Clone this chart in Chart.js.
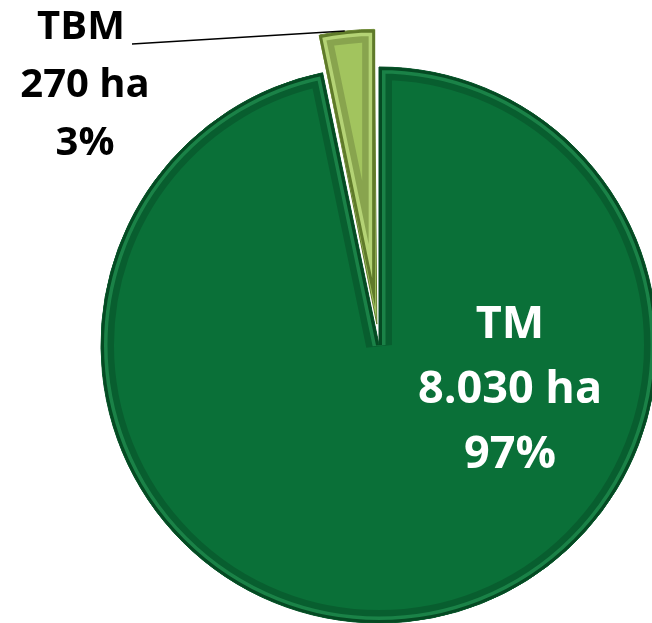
<!DOCTYPE html>
<html>
<head>
<meta charset="utf-8">
<script src="https://cdn.jsdelivr.net/npm/chart.js@4/dist/chart.umd.min.js"></script>
<style>
  html, body { margin: 0; padding: 0; background: #fff; }
  #grafico { display: block; }
</style>
</head>
<body>
<canvas id="grafico" width="652" height="623"></canvas>
<script>
// ================= DADOS =================
const categorias = ["TM", "TBM"];
const areaHa = [8030, 270];
const rotulosArea = ["8.030 ha", "270 ha"];
const percentuais = ["97%", "3%"];

// cores das fatias
const cores = ["#0a7038", "#a2c45e"];
const coresBorda = ["#054a23", "#5f7a2a"];
const coresBrilho = ["#1a8247", "#b4d375"];
const destaque = [0, 84];

// ================= FATIAS =================
function caminhoFatia(ctx, arco) {
  const p = arco.getProps(["x", "y", "startAngle", "endAngle", "outerRadius", "circumference"], true);
  const off = (arco.options.offset || 0) / 4;
  const fix = 1 - Math.sin(Math.min(Math.PI, p.circumference || 0));
  const meio = (p.startAngle + p.endAngle) / 2;
  const d = off * (1 + fix);
  const cx = p.x + Math.cos(meio) * d;
  const cy = p.y + Math.sin(meio) * d;
  ctx.beginPath();
  ctx.moveTo(cx, cy);
  ctx.arc(cx, cy, p.outerRadius, p.startAngle, p.endAngle);
  ctx.closePath();
  return { cx, cy, r: p.outerRadius, meio };
}

// efeito de chanfro nas bordas
const pluginChanfro = {
  id: "chanfro",
  afterDatasetsDraw(chart) {
    const ctx = chart.ctx;
    const arcos = chart.getDatasetMeta(0).data;
    arcos.forEach((arco, i) => {
      ctx.save();
      caminhoFatia(ctx, arco);
      ctx.clip();
      caminhoFatia(ctx, arco);
      ctx.lineJoin = "bevel";
      ctx.strokeStyle = "rgba(0,0,0,0.16)";
      ctx.lineWidth = 26;
      ctx.stroke();
      ctx.strokeStyle = coresBrilho[i];
      ctx.lineWidth = 13;
      ctx.stroke();
      ctx.strokeStyle = coresBorda[i];
      ctx.lineWidth = 6;
      ctx.stroke();
      ctx.restore();
    });
  }
};

// ================= RÓTULOS =================
const pluginRotulos = {
  id: "rotulos",
  afterDraw(chart) {
    const ctx = chart.ctx;
    const arcos = chart.getDatasetMeta(0).data;
    ctx.save();
    ctx.textAlign = "center";
    ctx.textBaseline = "alphabetic";

    // TM (dentro da fatia)
    const tm = arcos[0];
    const cxTm = tm.x + 131;
    const byTm = tm.y + 58;
    ctx.fillStyle = "#ffffff";
    ctx.font = "bold 45px 'Open Sans'";
    ctx.fillText(categorias[0], cxTm, byTm - 65);
    ctx.fillText(rotulosArea[0], cxTm, byTm);
    ctx.fillText(percentuais[0], cxTm, byTm + 65);

    // TBM (fora, com linha de chamada)
    const tbm = arcos[1];
    const g = caminhoFatia(ctx, tbm);
    const ex = g.cx + Math.cos(g.meio) * g.r;
    const ey = g.cy + Math.sin(g.meio) * g.r;
    ctx.strokeStyle = "#000000";
    ctx.lineWidth = 1.5;
    ctx.beginPath();
    ctx.moveTo(132, 44);
    ctx.lineTo(ex - 2, ey);
    ctx.stroke();

    ctx.fillStyle = "#000000";
    ctx.font = "bold 40px 'Open Sans'";
    ctx.fillText(categorias[1], 81, 39);
    ctx.fillText(rotulosArea[1], 85, 97);
    ctx.fillText(percentuais[1], 85, 155);
    ctx.restore();
  }
};

const ctx = document.getElementById("grafico").getContext("2d");
window.grafico = new Chart(ctx, {
  type: "pie",
  data: {
    labels: categorias,
    datasets: [{
      data: areaHa,
      backgroundColor: cores,
      borderColor: coresBorda,
      borderWidth: 1,
      offset: destaque,
      clip: false
    }]
  },
  options: {
    responsive: false,
    animation: false,
    radius: 278,
    layout: { padding: { left: 106, right: 0, top: 67, bottom: 0 } },
    plugins: {
      legend: { display: false },
      tooltip: { enabled: false }
    }
  },
  plugins: [pluginChanfro, pluginRotulos]
});
</script>
</body>
</html>
